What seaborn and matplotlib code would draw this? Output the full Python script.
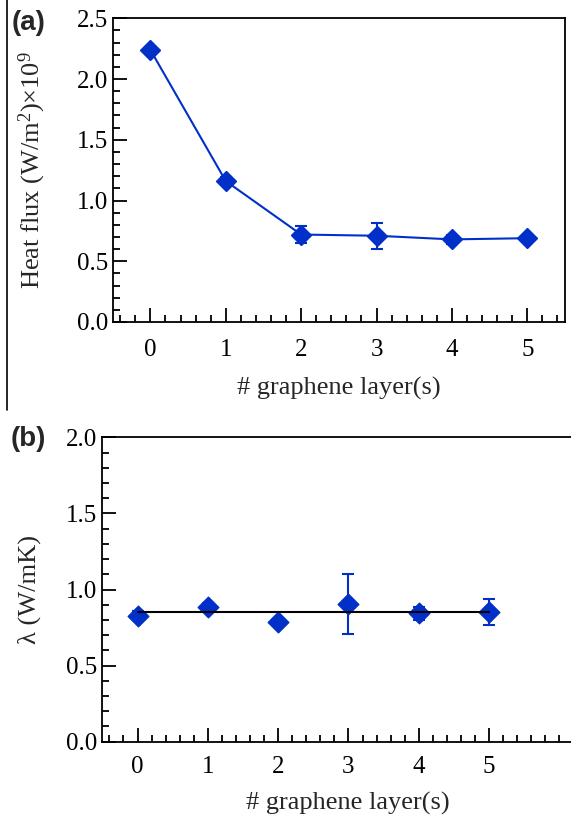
import numpy as np
import pandas as pd
import matplotlib
matplotlib.use("Agg")
import matplotlib.pyplot as plt
from matplotlib.ticker import MultipleLocator, FixedLocator, FormatStrFormatter
from matplotlib.lines import Line2D
import seaborn as sns

# ---- data ----
layers = [0, 1, 2, 3, 4, 5]
heat_flux = [2.24, 1.16, 0.72, 0.71, 0.68, 0.69]
heat_flux_err = [0.02, 0.03, 0.07, 0.105, 0.035, 0.02]
conductivity = [0.828, 0.885, 0.785, 0.905, 0.843, 0.85]
conductivity_err = [0.03, 0.025, 0.02, 0.195, 0.045, 0.085]
mean_conductivity = 0.85
xlabel = "# graphene layer(s)"
ylabel_a = "Heat flux (W/m$^2$)×10$^9$"
ylabel_b = "λ (W/mK)"

BLUE = "#0030C8"

sns.set_theme(style="ticks")
plt.rcParams["font.family"] = ["Liberation Serif", "DejaVu Serif"]
plt.rcParams["mathtext.fontset"] = "custom"
plt.rcParams["mathtext.rm"] = "Liberation Serif"
plt.rcParams["mathtext.it"] = "Liberation Serif:italic"

fig = plt.figure(figsize=(5.71, 8.17), dpi=100)
W, H = 571.0, 817.0

def px_axes(left, top, right, bottom):
    return fig.add_axes([left / W, 1 - bottom / H, (right - left) / W, (bottom - top) / H])

ax_a = px_axes(112.7, 18.3, 565.0, 322.0)
ax_b = px_axes(101.7, 437.3, 101.7 + 7 * 70.3, 741.7)

df_a = pd.DataFrame({"layers": layers, "flux": heat_flux})
df_b = pd.DataFrame({"layers": layers, "lam": conductivity})

# panel a
ax_a.errorbar(layers, heat_flux, yerr=heat_flux_err, fmt="none", ecolor=BLUE,
              elinewidth=1.5, capsize=4.5, capthick=1.5, zorder=2)
sns.lineplot(data=df_a, x="layers", y="flux", ax=ax_a, color=BLUE, linewidth=1.5,
             marker="D", markersize=10, markeredgecolor=BLUE, markeredgewidth=1, zorder=3)

# panel b
ax_b.errorbar(layers, conductivity, yerr=conductivity_err, fmt="none", ecolor=BLUE,
              elinewidth=1.5, capsize=4.5, capthick=1.5, zorder=2)
sns.scatterplot(data=df_b, x="layers", y="lam", ax=ax_b, color=BLUE, marker="D",
                s=110, edgecolor=BLUE, linewidth=1, zorder=3)
sns.lineplot(x=[layers[0], layers[-1]], y=[mean_conductivity] * 2, ax=ax_b,
             color="black", linewidth=1.5, zorder=4)

for ax, ylim, ylab in ((ax_a, (0, 2.5), ylabel_a), (ax_b, (0, 2.0), ylabel_b)):
    ax.set_ylim(*ylim)
    ax.yaxis.set_major_locator(MultipleLocator(0.5))
    ax.yaxis.set_minor_locator(MultipleLocator(0.1))
    ax.xaxis.set_major_locator(FixedLocator(layers))
    ax.xaxis.set_minor_locator(MultipleLocator(0.2))
    ax.yaxis.set_major_formatter(FormatStrFormatter("%.1f"))
    ax.tick_params(which="both", direction="in", top=False, right=False,
                   width=1.3, colors="black", labelsize=18)
    ax.tick_params(which="major", length=10)
    ax.tick_params(which="minor", length=5)
    ax.tick_params(axis="y", pad=3)
    for s in ax.spines.values():
        s.set_visible(True)
        s.set_linewidth(1.3)
        s.set_color("black")

ax_a.tick_params(axis="x", pad=12)
ax_b.tick_params(axis="x", pad=10)
ax_a.set_xlabel(xlabel, fontsize=19, labelpad=12)
ax_b.set_xlabel(xlabel, fontsize=19, labelpad=10)
ax_a.set_ylabel(ylabel_a, fontsize=19)
ax_b.set_ylabel(ylabel_b, fontsize=19)
ax_a.yaxis.set_label_coords((48 - 112.7) / 452.3, 0.5)
ax_b.yaxis.set_label_coords((41 - 101.7) / (7 * 70.3), 0.5)

ax_a.set_xlim(-0.5, 5.5)
ax_b.set_xlim(-0.51, 6.49)

fig.text(12 / W, 1 - 23 / H, "(a)", fontsize=20, fontweight="bold",
         family=["Liberation Sans", "DejaVu Sans"], va="center", ha="left")
fig.text(11 / W, 1 - 439 / H, "(b)", fontsize=20, fontweight="bold",
         family=["Liberation Sans", "DejaVu Sans"], va="center", ha="left")

fig.add_artist(Line2D([7.3 / W, 7.3 / W], [1.0, 1 - 410 / H], color="black",
                      linewidth=1.2, transform=fig.transFigure))

fig.savefig("out.png", dpi=100)
